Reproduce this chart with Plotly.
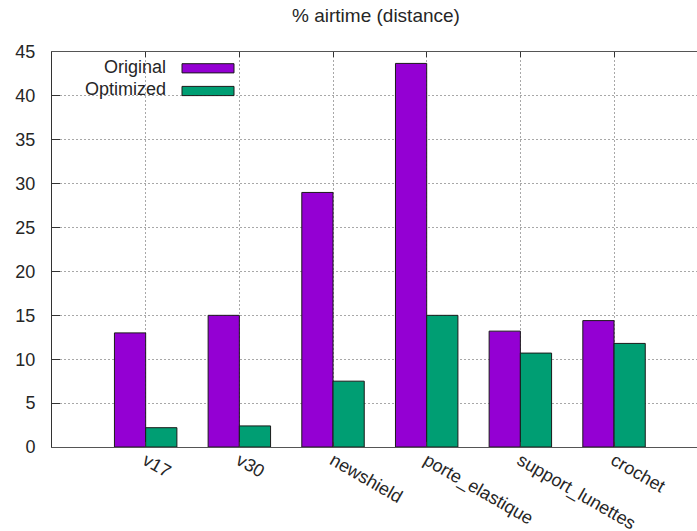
import plotly.graph_objects as go

categories = ["v17", "v30", "newshield", "porte_elastique", "support_lunettes", "crochet"]
original = [13.0, 15.0, 29.0, 43.7, 13.2, 14.4]
optimized = [2.2, 2.4, 7.5, 15.0, 10.7, 11.8]
y_ticks = [0, 5, 10, 15, 20, 25, 30, 35, 40, 45]

W, H = 697, 531
ML, MR, MT, MB = 52, 0, 52, 84
PW, PH = W - ML - MR, H - MT - MB

def px(x):
    return (x - ML) / PW

def py(y):
    return (H - MB - y) / PH

PURPLE = "#9400d3"
GREEN = "#009e73"
FONT = "Liberation Sans, Arial, sans-serif"
TXT = "#262626"
FS = 18

fig = go.Figure()
fig.add_trace(go.Bar(x=categories, y=original, name="Original",
                     marker=dict(color=PURPLE, line=dict(color="#1a1a1a", width=1)),
                     showlegend=False))
fig.add_trace(go.Bar(x=categories, y=optimized, name="Optimized",
                     marker=dict(color=GREEN, line=dict(color="#1a1a1a", width=1)),
                     showlegend=False))

# opaque key box, then manual key (text left of swatch, as in the original)
shapes = [
    dict(type="rect", xref="paper", yref="paper", x0=px(53), x1=px(247), y0=py(104), y1=py(53),
         fillcolor="white", line=dict(width=0), layer="between"),
]
annotations = []
for label, col, yc in [("Original", PURPLE, 68.3), ("Optimized", GREEN, 91)]:
    shapes.append(dict(type="rect", xref="paper", yref="paper",
                       x0=px(182), x1=px(234), y0=py(yc + 4.6), y1=py(yc - 4.6),
                       fillcolor=col, line=dict(color="#1a1a1a", width=1), layer="above"))
    annotations.append(dict(text=label, xref="paper", yref="paper", x=px(168), y=py(yc - 1.5),
                            xanchor="right", yanchor="middle", showarrow=False,
                            font=dict(family=FONT, size=FS, color=TXT)))

fig.update_layout(
    width=W, height=H,
    margin=dict(l=ML, r=MR, t=MT, b=MB, autoexpand=False),
    paper_bgcolor="white", plot_bgcolor="white",
    barmode="group", bargap=1/3, bargroupgap=0,
    title=dict(text="% airtime (distance)", x=376 / W, xanchor="center",
               y=1 - 15 / H, yanchor="middle", yref="container",
               font=dict(family=FONT, size=19, color=TXT)),
    font=dict(family=FONT, size=FS, color=TXT),
    shapes=shapes, annotations=annotations,
    showlegend=False,
)
fig.update_xaxes(
    type="category", range=[-1, (W - 145) / 93.74 - 0.003], automargin=False,
    showline=True, linecolor="#555555", linewidth=1, mirror="ticks",
    ticks="inside", ticklen=5, tickcolor="#333333",
    showgrid=True, gridcolor="#a8a8a8", griddash="2px,2px", gridwidth=1,
    tickangle=30, tickfont=dict(family=FONT, size=FS, color=TXT),
    ticklabelstandoff=-5,
)
fig.update_yaxes(
    range=[0, 45], tickvals=y_ticks, automargin=False,
    showline=True, linecolor="#333333", linewidth=1, mirror=False,
    ticks="inside", ticklen=8, tickcolor="#333333",
    showgrid=True, gridcolor="#a8a8a8", griddash="2px,2px", gridwidth=1,
    zeroline=False, ticklabelstandoff=12,
    tickfont=dict(family=FONT, size=FS, color=TXT),
)

fig.write_html("out.html", config={"displayModeBar": False},
               post_script="document.body.style.margin='0px';document.body.style.overflow='hidden';")
